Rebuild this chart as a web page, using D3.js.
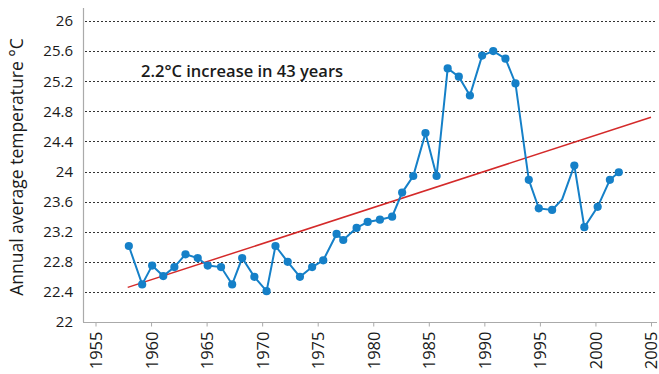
<!DOCTYPE html>
<html>
<head>
<meta charset="utf-8">
<script src="https://cdn.jsdelivr.net/npm/d3@7"></script>
<style>
  html, body { margin: 0; padding: 0; background: #fff; }
  svg { display: block; }
  text { font-family: "Open Sans", "Noto Sans", sans-serif; fill: #1a1a1a; }
</style>
</head>
<body>
<svg id="chart" width="659" height="374"></svg>
<script>
// ---- data ----
const years = [1958.0, 1959.2, 1960.1, 1961.1, 1962.1, 1963.1, 1964.2, 1965.1, 1966.3, 1967.3,
               1968.2, 1969.3, 1970.4, 1971.2, 1972.3, 1973.4, 1974.5, 1975.5, 1976.7, 1977.3,
               1978.5, 1979.5, 1980.6, 1981.7, 1982.6, 1983.6, 1984.7, 1985.7, 1986.7, 1987.7,
               1988.7, 1989.8, 1990.8, 1991.9, 1992.8, 1994.0, 1994.9, 1996.1, 1997.0, 1998.1,
               1999.0, 2000.2, 2001.3, 2002.1];
const temps = [23.01, 22.50, 22.75, 22.61, 22.73, 22.90, 22.85, 22.75, 22.73, 22.50,
               22.85, 22.60, 22.41, 23.01, 22.80, 22.60, 22.73, 22.82, 23.17, 23.09,
               23.25, 23.33, 23.36, 23.40, 23.72, 23.94, 24.51, 23.94, 25.37, 25.26,
               25.01, 25.54, 25.60, 25.50, 25.17, 23.89, 23.51, 23.49, 23.63, 24.08,
               23.26, 23.53, 23.89, 23.99];
const unmarkedYears = [1997.0];
const trendYears = [1957.9, 2005];
const trendTemps = [22.46, 24.72];
const xTicks = [1955, 1960, 1965, 1970, 1975, 1980, 1985, 1990, 1995, 2000, 2005];
const yTicks = [22, 22.4, 22.8, 23.2, 23.6, 24, 24.4, 24.8, 25.2, 25.6, 26];
const yLabel = "Annual average temperature °C";
const note = "2.2°C increase in 43 years";

// ---- layout ----
const svg = d3.select("#chart");
const x = d3.scaleLinear().domain([1955, 2005]).range([95.5, 651]);
const y = d3.scaleLinear().domain([22, 26]).range([322, 21]);
const axisLeftX = 83, plotRight = 657, plotTop = 8;

// gridlines
svg.append("g").selectAll("line")
  .data(yTicks.filter(d => d > 22))
  .join("line")
  .attr("x1", axisLeftX + 2).attr("x2", 655)
  .attr("y1", d => Math.round(y(d)) + 0.5).attr("y2", d => Math.round(y(d)) + 0.5)
  .attr("stroke", "#333").attr("stroke-width", 1).attr("stroke-dasharray", "2,2");

// axes lines
svg.append("line").attr("x1", axisLeftX + 0.5).attr("x2", axisLeftX + 0.5)
  .attr("y1", plotTop).attr("y2", y(22)).attr("stroke", "#aaa").attr("stroke-width", 1.2);
svg.append("line").attr("x1", axisLeftX).attr("x2", plotRight)
  .attr("y1", y(22) + 0.5).attr("y2", y(22) + 0.5).attr("stroke", "#aaa").attr("stroke-width", 1.2);

// y tick labels
const yAxis = d3.axisLeft(y).tickValues(yTicks).tickSize(0).tickPadding(0)
  .tickFormat(d => String(+d.toFixed(1)));
const gy = svg.append("g").attr("transform", `translate(${73},0)`).call(yAxis);
gy.select(".domain").remove();
gy.selectAll("text").style("font-size", "15px").style("font-family", '"Open Sans", sans-serif').attr("fill", "#1a1a1a");

// x axis ticks and labels
const xAxis = d3.axisBottom(x).tickValues(xTicks).tickSize(4).tickPadding(0).tickFormat(d3.format("d"));
const gx = svg.append("g").attr("transform", `translate(0,${y(22) + 0.5})`).call(xAxis);
gx.select(".domain").remove();
gx.selectAll(".tick line").attr("stroke", "#aaa");
gx.selectAll("text")
  .style("font-size", "16.5px").style("font-family", '"Open Sans", sans-serif').attr("fill", "#1a1a1a")
  .attr("text-anchor", "end")
  .attr("transform", "rotate(-90)")
  .attr("x", -9).attr("y", 0).attr("dy", "0.36em");

// y axis label
svg.append("text")
  .attr("transform", `translate(23,${167}) rotate(-90)`)
  .attr("text-anchor", "middle")
  .style("font-size", "17.5px")
  .text(yLabel);

// annotation
svg.append("text")
  .attr("x", 141).attr("y", 77)
  .style("font-size", "16.5px").style("font-weight", 600)
  .text(note);

// trend line
svg.append("line")
  .attr("x1", x(trendYears[0])).attr("y1", y(trendTemps[0]))
  .attr("x2", x(trendYears[1])).attr("y2", y(trendTemps[1]))
  .attr("stroke", "#d42a2a").attr("stroke-width", 1.5);

// data line
const pts = years.map((yr, i) => ({ yr, t: temps[i] }));
svg.append("path").datum(pts)
  .attr("d", d3.line().x(d => x(d.yr)).y(d => y(d.t)))
  .attr("fill", "none").attr("stroke", "#1580c8").attr("stroke-width", 2);

svg.append("g").selectAll("circle")
  .data(pts.filter(d => !unmarkedYears.includes(d.yr)))
  .join("circle")
  .attr("cx", d => x(d.yr)).attr("cy", d => y(d.t)).attr("r", 4.1)
  .attr("fill", "#1580c8");
</script>
</body>
</html>
